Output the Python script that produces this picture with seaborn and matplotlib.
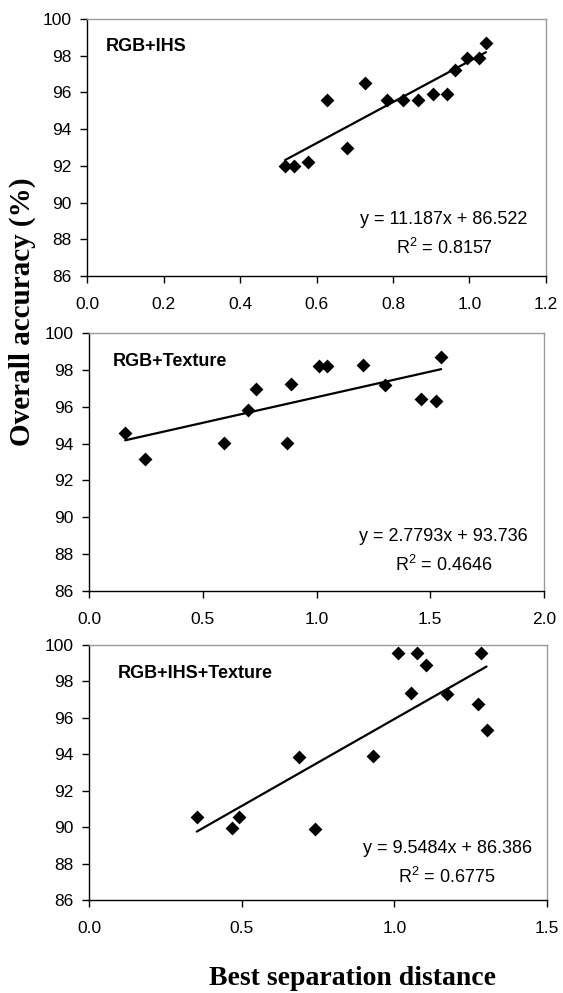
import numpy as np
import pandas as pd
import seaborn as sns
from matplotlib import pyplot as plt

# values
ihs_x = [0.518, 0.542, 0.579, 0.628, 0.679, 0.727, 0.785, 0.825, 0.866, 0.904, 0.940, 0.962, 0.993, 1.026, 1.043]
ihs_y = [92.0, 92.0, 92.2, 95.6, 93.0, 96.5, 95.6, 95.6, 95.6, 95.9, 95.9, 97.2, 97.9, 97.9, 98.7]

tex_x = [0.159, 0.247, 0.593, 0.700, 0.732, 0.871, 0.887, 1.012, 1.047, 1.203, 1.301, 1.459, 1.524, 1.548]
tex_y = [94.55, 93.15, 94.05, 95.8, 96.95, 94.05, 97.25, 98.2, 98.2, 98.25, 97.2, 96.4, 96.3, 98.7]

all_x = [0.353, 0.467, 0.491, 0.688, 0.741, 0.931, 1.011, 1.056, 1.073, 1.103, 1.172, 1.274, 1.285, 1.302]
all_y = [90.57, 89.98, 90.57, 93.83, 89.89, 93.9, 99.58, 97.34, 99.58, 98.9, 97.31, 96.74, 99.58, 95.33]

titles = ["RGB+IHS", "RGB+Texture", "RGB+IHS+Texture"]
slopes = [11.187, 2.7793, 9.5484]
intercepts = [86.522, 93.736, 86.386]
r2_values = [0.8157, 0.4646, 0.6775]
x_max = [1.2, 2.0, 1.5]
x_step = [0.2, 0.5, 0.5]
y_ticks = [86, 88, 90, 92, 94, 96, 98, 100]

sns.set_theme(style="ticks")
plt.rcParams['font.family'] = ['Liberation Sans', 'DejaVu Sans']
plt.rcParams['mathtext.fontset'] = 'custom'
plt.rcParams['mathtext.rm'] = 'Liberation Sans'
plt.rcParams['mathtext.default'] = 'regular'
plt.rcParams['text.color'] = 'black'
plt.rcParams['xtick.color'] = 'black'
plt.rcParams['ytick.color'] = 'black'
plt.rcParams['xtick.labelcolor'] = 'black'
plt.rcParams['ytick.labelcolor'] = 'black'

fig = plt.figure(figsize=(5.63, 9.93), dpi=100)
W, H = 563, 993
# axes boxes in pixels: left, right, top, bottom
boxes = [(87, 546, 19, 276), (89, 544, 333, 591), (89, 547, 645, 900)]
eq_pos = [(0.778, 0.218, 0.109), (0.779, 0.213, 0.101), (0.782, 0.203, 0.089)]
title_pos = [(0.041, 0.892), (0.053, 0.89), (0.063, 0.889)]

data = [(ihs_x, ihs_y), (tex_x, tex_y), (all_x, all_y)]

for i, (xs, ys) in enumerate(data):
    l, r, t, b = boxes[i]
    ax = fig.add_axes([l / W, 1 - b / H, (r - l) / W, (b - t) / H])
    df = pd.DataFrame({'x': xs, 'y': ys})
    sns.scatterplot(data=df, x='x', y='y', marker='D', s=50, color='black',
                    linewidth=0, ax=ax, zorder=3)
    fit = pd.DataFrame({'x': [min(xs), max(xs)]})
    fit['y'] = slopes[i] * fit['x'] + intercepts[i]
    sns.lineplot(data=fit, x='x', y='y', color='black', linewidth=1.6, ax=ax)

    ticks = np.arange(0, x_max[i] + 1e-9, x_step[i])
    ax.set_xlim(0, x_max[i])
    ax.set_ylim(86, 100)
    ax.set_xticks(ticks)
    ax.set_xticklabels([f"{v:.1f}" for v in ticks])
    ax.set_yticks(y_ticks)
    ax.set_xlabel('')
    ax.set_ylabel('')
    ax.tick_params(axis='both', labelsize=12.5, length=5, width=1, color='black',
                   labelcolor='black')
    ax.tick_params(axis='x', pad=10)
    ax.tick_params(axis='y', pad=6)
    for s in ['left', 'bottom']:
        ax.spines[s].set_color('black')
        ax.spines[s].set_linewidth(1)
    for s in ['top', 'right']:
        ax.spines[s].set_visible(True)
        ax.spines[s].set_color('#9a9a9a')
        ax.spines[s].set_linewidth(1)

    ax.text(title_pos[i][0], title_pos[i][1], titles[i], transform=ax.transAxes,
            fontsize=13, fontweight='bold', ha='left', va='center', color='black')
    cx, ey, ry = eq_pos[i]
    ax.text(cx, ey, f"y = {slopes[i]}x + {intercepts[i]:.3f}", transform=ax.transAxes,
            fontsize=13, ha='center', va='center', color='black')
    ax.text(cx, ry, f"R$^{{2}}$ = {r2_values[i]:.4f}", transform=ax.transAxes,
            fontsize=13, ha='center', va='center', color='black')

fig.text(0.626, 0.0151, "Best separation distance", fontsize=20, fontweight='bold',
         family=['Liberation Serif', 'DejaVu Serif'], ha='center', va='center', color='black')
fig.text(0.039, 0.686, "Overall accuracy (%)", fontsize=21, fontweight='bold',
         family=['Liberation Serif', 'DejaVu Serif'], rotation=90, ha='center', va='center',
         color='black')

fig.savefig('out.png', dpi=100, facecolor='white')
